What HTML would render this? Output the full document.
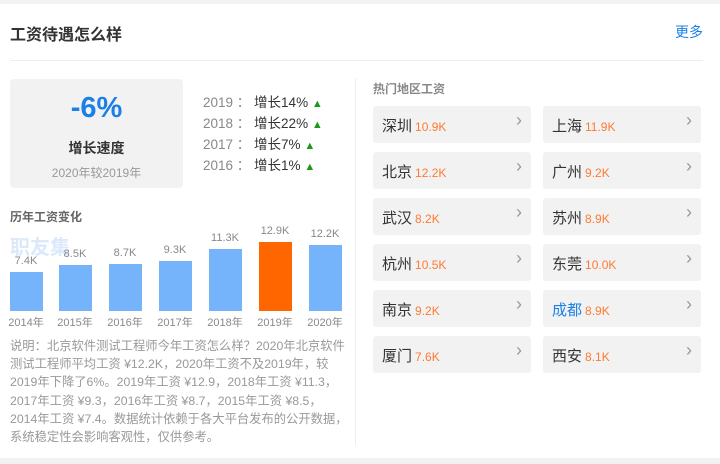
<!DOCTYPE html>
<html><head><meta charset="utf-8"><style>
*{margin:0;padding:0;box-sizing:border-box}
body{width:720px;height:464px;background:#fff;font-family:"Liberation Sans","Noto Sans CJK SC",sans-serif;position:relative;overflow:hidden}
.a{position:absolute;white-space:nowrap}
.bar{position:absolute;width:33px;background:#75b4fb}
.bl{position:absolute;width:50px;text-align:center;font-size:11px;color:#888}
.card{position:absolute;width:158px;height:37px;background:#f2f2f2;border-radius:3px}
.card .c{position:absolute;left:9px;top:9px;font-size:15px;color:#333}
.card .v{font-size:12px;color:#ff7a33;margin-left:3px}
.card .r{position:absolute;right:9px;top:4px;font-size:18px;color:#999}
.up{color:#1a9a1a;font-size:11px}
</style></head><body>
<div class="a" style="left:0;top:0;width:720px;height:4px;background:#f2f2f2"></div>
<div class="a" style="left:0;top:458px;width:720px;height:6px;background:#f2f2f2"></div>
<div class="a" style="left:10px;top:21px;font-size:16px;font-weight:bold;color:#333">工资待遇怎么样</div>
<div class="a" style="left:675px;top:22px;font-size:14px;color:#1a7fe6">更多</div>
<div class="a" style="left:10px;top:60px;width:693px;height:1px;background:#eee"></div>
<div class="a" style="left:10px;top:79px;width:173px;height:109px;background:#f2f2f2;border-radius:4px"></div>
<div class="a" style="left:10px;top:92px;width:173px;text-align:center;font-size:29px;font-weight:bold;color:#1a7fe6">-6%</div>
<div class="a" style="left:10px;top:138px;width:173px;text-align:center;font-size:14px;font-weight:bold;color:#333">增长速度</div>
<div class="a" style="left:10px;top:164px;width:173px;text-align:center;font-size:12px;color:#999">2020年较2019年</div>
<div class="a" style="left:203px;top:93px;font-size:13.5px;line-height:20px;color:#888">2019 ： <span style="color:#333">增长14%</span> <span class="up">▲</span><br>2018 ： <span style="color:#333">增长22%</span> <span class="up">▲</span><br>2017 ： <span style="color:#333">增长7%</span> <span class="up">▲</span><br>2016 ： <span style="color:#333">增长1%</span> <span class="up">▲</span></div>
<div class="a" style="left:10px;top:208px;font-size:12px;font-weight:bold;color:#666">历年工资变化</div>
<div class="a" style="left:10px;top:231px;font-size:20px;font-weight:bold;color:#dbe9fb">职友集</div>
<div class="bar" style="left:10px;top:272px;height:39px"></div>
<div class="bar" style="left:59px;top:265px;height:46px"></div>
<div class="bar" style="left:109px;top:264px;height:47px"></div>
<div class="bar" style="left:159px;top:261px;height:50px"></div>
<div class="bar" style="left:209px;top:249px;height:62px"></div>
<div class="bar" style="left:259px;top:242px;height:69px;background:#ff6600"></div>
<div class="bar" style="left:309px;top:245px;height:66px"></div>
<div class="bl" style="left:1px;top:255px">7.4K</div>
<div class="bl" style="left:50px;top:248px">8.5K</div>
<div class="bl" style="left:100px;top:247px">8.7K</div>
<div class="bl" style="left:150px;top:244px">9.3K</div>
<div class="bl" style="left:200px;top:232px">11.3K</div>
<div class="bl" style="left:250px;top:225px">12.9K</div>
<div class="bl" style="left:300px;top:228px">12.2K</div>
<div class="bl" style="left:1px;top:314px">2014年</div>
<div class="bl" style="left:50px;top:314px">2015年</div>
<div class="bl" style="left:100px;top:314px">2016年</div>
<div class="bl" style="left:150px;top:314px">2017年</div>
<div class="bl" style="left:200px;top:314px">2018年</div>
<div class="bl" style="left:250px;top:314px">2019年</div>
<div class="bl" style="left:300px;top:314px">2020年</div>
<div class="a" style="left:10px;top:337px;font-size:12.3px;line-height:18.2px;color:#999">说明：北京软件测试工程师今年工资怎么样？2020年北京软件<br>测试工程师平均工资 ¥12.2K，2020年工资不及2019年，较<br>2019年下降了6%。2019年工资 ¥12.9，2018年工资 ¥11.3，<br>2017年工资 ¥9.3，2016年工资 ¥8.7，2015年工资 ¥8.5，<br>2014年工资 ¥7.4。数据统计依赖于各大平台发布的公开数据，<br>系统稳定性会影响客观性，仅供参考。</div>
<div class="a" style="left:355px;top:78px;width:1px;height:367px;background:#eee"></div>
<div class="a" style="left:373px;top:80px;font-size:12px;font-weight:bold;color:#888">热门地区工资</div>
<div class="card" style="left:373px;top:106px"><span class="c">深圳<span class="v">10.9K</span></span><span class="r">›</span></div>
<div class="card" style="left:543px;top:106px"><span class="c">上海<span class="v">11.9K</span></span><span class="r">›</span></div>
<div class="card" style="left:373px;top:152px"><span class="c">北京<span class="v">12.2K</span></span><span class="r">›</span></div>
<div class="card" style="left:543px;top:152px"><span class="c">广州<span class="v">9.2K</span></span><span class="r">›</span></div>
<div class="card" style="left:373px;top:198px"><span class="c">武汉<span class="v">8.2K</span></span><span class="r">›</span></div>
<div class="card" style="left:543px;top:198px"><span class="c">苏州<span class="v">8.9K</span></span><span class="r">›</span></div>
<div class="card" style="left:373px;top:244px"><span class="c">杭州<span class="v">10.5K</span></span><span class="r">›</span></div>
<div class="card" style="left:543px;top:244px"><span class="c">东莞<span class="v">10.0K</span></span><span class="r">›</span></div>
<div class="card" style="left:373px;top:290px"><span class="c">南京<span class="v">9.2K</span></span><span class="r">›</span></div>
<div class="card" style="left:543px;top:290px"><span class="c"><span style="color:#1a7fe6">成都</span><span class="v">8.9K</span></span><span class="r">›</span></div>
<div class="card" style="left:373px;top:336px"><span class="c">厦门<span class="v">7.6K</span></span><span class="r">›</span></div>
<div class="card" style="left:543px;top:336px"><span class="c">西安<span class="v">8.1K</span></span><span class="r">›</span></div>
</body></html>
